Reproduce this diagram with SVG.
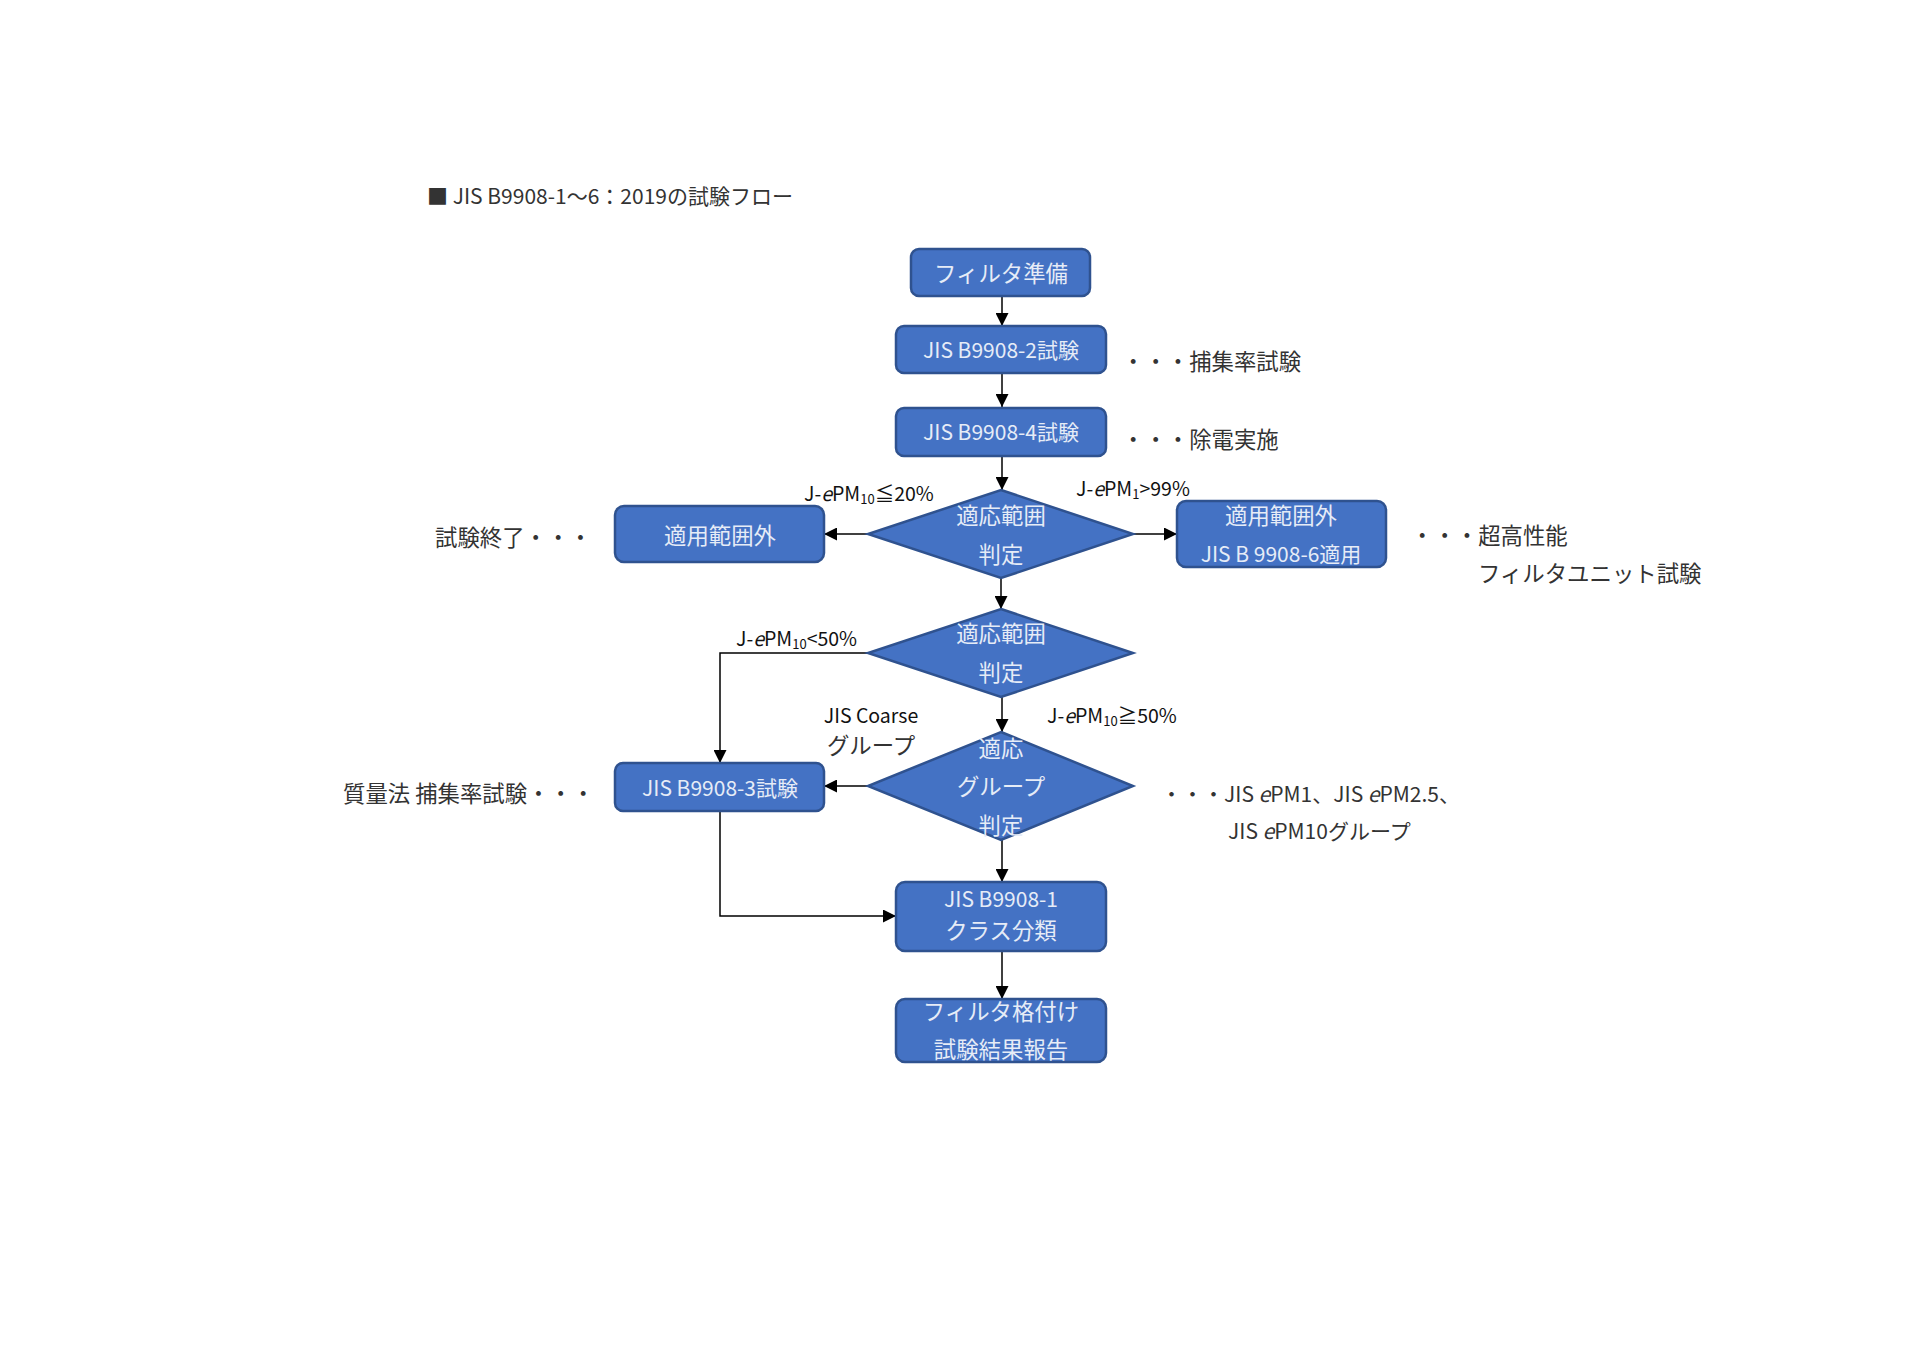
<svg xmlns="http://www.w3.org/2000/svg" width="1920" height="1358" viewBox="0 0 1920 1358">
<defs>
<style>
text{font-family:"Noto Sans CJK JP","Noto Sans",sans-serif;font-size:21px;dominant-baseline:central}
.box{fill:#4472C4;stroke:#2F528F;stroke-width:2.5}
.in{fill:#E6ECF7;text-anchor:middle}
.out{fill:#333}
.lab{fill:#111;font-size:19.5px}
.cj{font-size:22.4px}
.con{fill:none;stroke:#000;stroke-width:1.5}
.i{font-style:italic}
</style>
<marker id="ah" viewBox="0 0 10 10" refX="10" refY="5" markerWidth="13" markerHeight="13" markerUnits="userSpaceOnUse" orient="auto">
<path d="M0,0 L10,5 L0,10 z" fill="#000"/>
</marker>
</defs>
<rect width="1920" height="1358" fill="#fff"/>
<text x="427" y="195" class="out" fill="#111">■ JIS B9908-1～6：2019の試験フロー</text>

<g id="connectors">
<path class="con" d="M1002,296 V326" marker-end="url(#ah)"/>
<path class="con" d="M1002,373 V407" marker-end="url(#ah)"/>
<path class="con" d="M1002,456 V490" marker-end="url(#ah)"/>
<path class="con" d="M868,534 H824" marker-end="url(#ah)"/>
<path class="con" d="M1133,534 H1177" marker-end="url(#ah)"/>
<path class="con" d="M1001,578 V609" marker-end="url(#ah)"/>
<path class="con" d="M868,653 H720 V763" marker-end="url(#ah)"/>
<path class="con" d="M1002,697 V732" marker-end="url(#ah)"/>
<path class="con" d="M868,786 H824" marker-end="url(#ah)"/>
<path class="con" d="M1002,840 V882" marker-end="url(#ah)"/>
<path class="con" d="M720,811 V916 H896" marker-end="url(#ah)"/>
<path class="con" d="M1002,951 V999" marker-end="url(#ah)"/>
</g>

<g id="n1"><rect class="box" x="911" y="249" width="179" height="47" rx="8"/><text class="in cj" x="1001" y="272">フィルタ準備</text></g>
<g id="n2"><rect class="box" x="896" y="326" width="210" height="47" rx="8"/><text class="in" x="1001" y="349">JIS B9908-2試験</text></g>
<g id="n3"><rect class="box" x="896" y="408" width="210" height="48" rx="8"/><text class="in" x="1001" y="431">JIS B9908-4試験</text></g>
<g id="d1"><polygon class="box" points="1001,490 1133,534 1001,578 868,534"/><text class="in cj" x="1001" y="514">適応範囲</text><text class="in cj" x="1001" y="553">判定</text></g>
<g id="nL"><rect class="box" x="615" y="506" width="209" height="56" rx="9"/><text class="in cj" x="720" y="534">適用範囲外</text></g>
<g id="nR"><rect class="box" x="1177" y="501" width="209" height="66" rx="9"/><text class="in cj" x="1281" y="514">適用範囲外</text><text class="in" x="1281" y="553">JIS B 9908-6適用</text></g>
<g id="d2"><polygon class="box" points="1001,609 1133,653 1001,697 868,653"/><text class="in cj" x="1001" y="632">適応範囲</text><text class="in cj" x="1001" y="671">判定</text></g>
<g id="d3"><polygon class="box" points="1001,732 1133,786 1001,840 868,786"/><text class="in cj" x="1001" y="747">適応</text><text class="in cj" x="1001" y="785">グループ</text><text class="in cj" x="1001" y="824">判定</text></g>
<g id="n4"><rect class="box" x="615" y="763" width="209" height="48" rx="8"/><text class="in" x="720" y="787">JIS B9908-3試験</text></g>
<g id="n5"><rect class="box" x="896" y="882" width="210" height="69" rx="9"/><text class="in" x="1001" y="898">JIS B9908-1</text><text class="in cj" x="1001" y="929">クラス分類</text></g>
<g id="n6"><rect class="box" x="896" y="999" width="210" height="63" rx="9"/><text class="in cj" x="1001" y="1010">フィルタ格付け</text><text class="in cj" x="1001" y="1048">試験結果報告</text></g>

<g id="labels">
<text class="lab" x="804" y="492">J-<tspan class="i">e</tspan>PM<tspan font-size="13" dy="6">10</tspan><tspan dy="-6">≦20%</tspan></text>
<text class="lab" x="1076" y="487">J-<tspan class="i">e</tspan>PM<tspan font-size="13" dy="6">1</tspan><tspan dy="-6">&gt;99%</tspan></text>
<text class="lab" x="736" y="637">J-<tspan class="i">e</tspan>PM<tspan font-size="13" dy="6">10</tspan><tspan dy="-6">&lt;50%</tspan></text>
<text class="lab" x="1047" y="714">J-<tspan class="i">e</tspan>PM<tspan font-size="13" dy="6">10</tspan><tspan dy="-6">≧50%</tspan></text>
<text class="lab" x="871" y="714" text-anchor="middle">JIS Coarse</text>
<text class="out cj" x="871" y="744" text-anchor="middle">グループ</text>
</g>
<g id="notes">
<text class="out cj" x="435" y="536">試験終了・・・</text>
<text class="out cj" x="1122" y="360">・・・捕集率試験</text>
<text class="out cj" x="1122" y="438">・・・除電実施</text>
<text class="out cj" x="1411" y="534">・・・超高性能</text>
<text class="out cj" x="1478" y="572">フィルタユニット試験</text>
<text class="out cj" x="343" y="792">質量法 捕集率試験・・・</text>
<text class="out" x="1161" y="793">・・・JIS <tspan class="i">e</tspan>PM1、JIS <tspan class="i">e</tspan>PM2.5、</text>
<text class="out" x="1228" y="830">JIS <tspan class="i">e</tspan>PM10グループ</text>
</g>
</svg>
